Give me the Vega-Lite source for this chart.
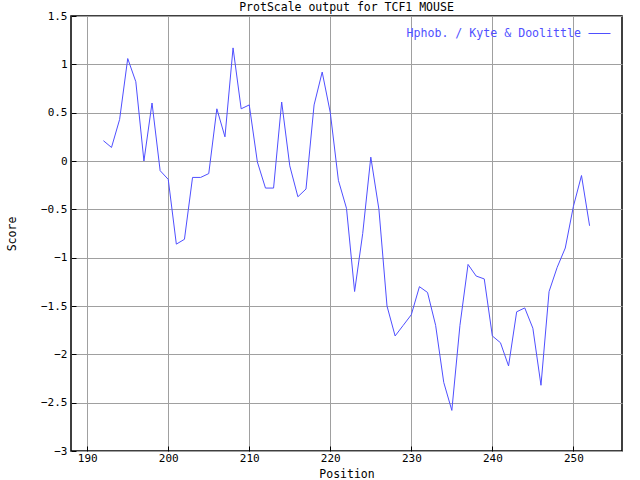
{
  "$schema": "https://vega.github.io/schema/vega-lite/v6.json",
  "autosize": "none",
  "width": 551,
  "height": 435,
  "padding": {"left": 71, "top": 16, "right": 18, "bottom": 29},
  "background": "white",
  "title": {"text": "ProtScale output for TCF1 MOUSE", "font": "DejaVu Sans Mono", "fontSize": 11.5, "fontWeight": "normal", "color": "black", "offset": 2, "dy": 5, "anchor": "middle"},
  "config": {
    "view": {"stroke": "black", "strokeWidth": 1.5},
    "axis": {"labelFont": "DejaVu Sans Mono", "labelFontSize": 11, "labelColor": "black", "titleFont": "DejaVu Sans Mono", "titleFontSize": 11.5, "titleFontWeight": "normal", "titleColor": "black", "gridColor": "#a0a0a0", "gridWidth": 1, "gridOpacity": 1, "domain": false, "ticks": true, "tickSize": -5, "tickColor": "black", "tickWidth": 1}
  },
  "data": {"values": [
    {"position": 192, "score": 0.21, "series": "Hphob. / Kyte & Doolittle"},
    {"position": 193, "score": 0.14, "series": "Hphob. / Kyte & Doolittle"},
    {"position": 194, "score": 0.43, "series": "Hphob. / Kyte & Doolittle"},
    {"position": 195, "score": 1.06, "series": "Hphob. / Kyte & Doolittle"},
    {"position": 196, "score": 0.82, "series": "Hphob. / Kyte & Doolittle"},
    {"position": 197, "score": 0.0, "series": "Hphob. / Kyte & Doolittle"},
    {"position": 198, "score": 0.6, "series": "Hphob. / Kyte & Doolittle"},
    {"position": 199, "score": -0.1, "series": "Hphob. / Kyte & Doolittle"},
    {"position": 200, "score": -0.19, "series": "Hphob. / Kyte & Doolittle"},
    {"position": 201, "score": -0.86, "series": "Hphob. / Kyte & Doolittle"},
    {"position": 202, "score": -0.81, "series": "Hphob. / Kyte & Doolittle"},
    {"position": 203, "score": -0.17, "series": "Hphob. / Kyte & Doolittle"},
    {"position": 204, "score": -0.17, "series": "Hphob. / Kyte & Doolittle"},
    {"position": 205, "score": -0.13, "series": "Hphob. / Kyte & Doolittle"},
    {"position": 206, "score": 0.54, "series": "Hphob. / Kyte & Doolittle"},
    {"position": 207, "score": 0.25, "series": "Hphob. / Kyte & Doolittle"},
    {"position": 208, "score": 1.17, "series": "Hphob. / Kyte & Doolittle"},
    {"position": 209, "score": 0.54, "series": "Hphob. / Kyte & Doolittle"},
    {"position": 210, "score": 0.58, "series": "Hphob. / Kyte & Doolittle"},
    {"position": 211, "score": -0.01, "series": "Hphob. / Kyte & Doolittle"},
    {"position": 212, "score": -0.28, "series": "Hphob. / Kyte & Doolittle"},
    {"position": 213, "score": -0.28, "series": "Hphob. / Kyte & Doolittle"},
    {"position": 214, "score": 0.61, "series": "Hphob. / Kyte & Doolittle"},
    {"position": 215, "score": -0.05, "series": "Hphob. / Kyte & Doolittle"},
    {"position": 216, "score": -0.37, "series": "Hphob. / Kyte & Doolittle"},
    {"position": 217, "score": -0.29, "series": "Hphob. / Kyte & Doolittle"},
    {"position": 218, "score": 0.58, "series": "Hphob. / Kyte & Doolittle"},
    {"position": 219, "score": 0.92, "series": "Hphob. / Kyte & Doolittle"},
    {"position": 220, "score": 0.5, "series": "Hphob. / Kyte & Doolittle"},
    {"position": 221, "score": -0.2, "series": "Hphob. / Kyte & Doolittle"},
    {"position": 222, "score": -0.49, "series": "Hphob. / Kyte & Doolittle"},
    {"position": 223, "score": -1.35, "series": "Hphob. / Kyte & Doolittle"},
    {"position": 224, "score": -0.75, "series": "Hphob. / Kyte & Doolittle"},
    {"position": 225, "score": 0.04, "series": "Hphob. / Kyte & Doolittle"},
    {"position": 226, "score": -0.5, "series": "Hphob. / Kyte & Doolittle"},
    {"position": 227, "score": -1.5, "series": "Hphob. / Kyte & Doolittle"},
    {"position": 228, "score": -1.81, "series": "Hphob. / Kyte & Doolittle"},
    {"position": 229, "score": -1.7, "series": "Hphob. / Kyte & Doolittle"},
    {"position": 230, "score": -1.59, "series": "Hphob. / Kyte & Doolittle"},
    {"position": 231, "score": -1.3, "series": "Hphob. / Kyte & Doolittle"},
    {"position": 232, "score": -1.36, "series": "Hphob. / Kyte & Doolittle"},
    {"position": 233, "score": -1.7, "series": "Hphob. / Kyte & Doolittle"},
    {"position": 234, "score": -2.29, "series": "Hphob. / Kyte & Doolittle"},
    {"position": 235, "score": -2.58, "series": "Hphob. / Kyte & Doolittle"},
    {"position": 236, "score": -1.7, "series": "Hphob. / Kyte & Doolittle"},
    {"position": 237, "score": -1.07, "series": "Hphob. / Kyte & Doolittle"},
    {"position": 238, "score": -1.19, "series": "Hphob. / Kyte & Doolittle"},
    {"position": 239, "score": -1.22, "series": "Hphob. / Kyte & Doolittle"},
    {"position": 240, "score": -1.81, "series": "Hphob. / Kyte & Doolittle"},
    {"position": 241, "score": -1.88, "series": "Hphob. / Kyte & Doolittle"},
    {"position": 242, "score": -2.12, "series": "Hphob. / Kyte & Doolittle"},
    {"position": 243, "score": -1.56, "series": "Hphob. / Kyte & Doolittle"},
    {"position": 244, "score": -1.52, "series": "Hphob. / Kyte & Doolittle"},
    {"position": 245, "score": -1.73, "series": "Hphob. / Kyte & Doolittle"},
    {"position": 246, "score": -2.32, "series": "Hphob. / Kyte & Doolittle"},
    {"position": 247, "score": -1.35, "series": "Hphob. / Kyte & Doolittle"},
    {"position": 248, "score": -1.1, "series": "Hphob. / Kyte & Doolittle"},
    {"position": 249, "score": -0.9, "series": "Hphob. / Kyte & Doolittle"},
    {"position": 250, "score": -0.47, "series": "Hphob. / Kyte & Doolittle"},
    {"position": 251, "score": -0.15, "series": "Hphob. / Kyte & Doolittle"},
    {"position": 252, "score": -0.67, "series": "Hphob. / Kyte & Doolittle"}
  ]},
  "mark": {"type": "line", "strokeWidth": 1, "interpolate": "linear"},
  "encoding": {
    "x": {"field": "position", "type": "quantitative", "title": "Position",
      "scale": {"domain": [188, 256], "nice": false, "zero": false},
      "axis": {"values": [190, 200, 210, 220, 230, 240, 250], "labelPadding": 6, "titleY": 17, "titleBaseline": "top"}},
    "y": {"field": "score", "type": "quantitative", "title": "Score",
      "scale": {"domain": [-3, 1.5], "nice": false, "zero": false},
      "axis": {"values": [-3, -2.5, -2, -1.5, -1, -0.5, 0, 0.5, 1, 1.5], "labelPadding": 9, "titleX": -59, "titleBaseline": "middle", "format": "~g"}},
    "color": {"field": "series", "type": "nominal", "scale": {"range": ["#4f4fff"]},
      "legend": {"title": null, "orient": "none", "legendX": 517, "legendY": 6, "symbolType": "stroke", "symbolStrokeWidth": 1, "symbolSize": 484, "labelLimit": 0, "labelAlign": "right", "labelOffset": -30, "labelFont": "DejaVu Sans Mono", "labelFontSize": 11.6, "labelColor": "#5050ff"}}
  }
}
